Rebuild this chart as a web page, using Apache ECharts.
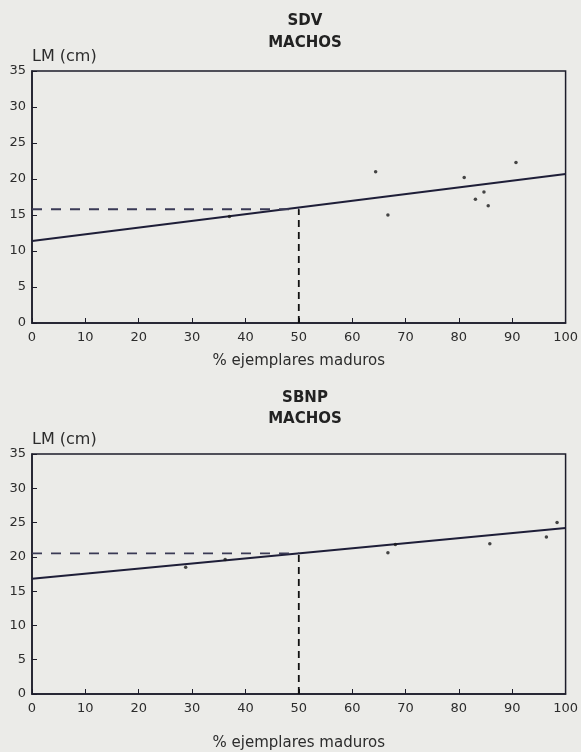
<!DOCTYPE html>
<html>
<head>
<meta charset="utf-8">
<script src="https://cdn.jsdelivr.net/npm/echarts@6/dist/echarts.min.js"></script>
<style>
html,body{margin:0;padding:0;background:#ebebe8;}
#c{width:581px;height:752px;}
</style>
</head>
<body>
<div id="c"></div>
<script>
// ---- data ----
const xTicks = [0,10,20,30,40,50,60,70,80,90,100];
const yTicks = [0,5,10,15,20,25,30,35];

// SDV machos
const sdvX = [37, 64.4, 66.7, 81.0, 83.1, 84.7, 85.5, 90.7];
const sdvY = [14.8, 21.0, 15.0, 20.2, 17.2, 18.2, 16.3, 22.3];
const sdvFitX = [0, 100];
const sdvFitY = [11.4, 20.7];
const sdvLM50 = 15.8;

// SBNP machos
const sbnpX = [28.8, 36.2, 66.7, 68.1, 85.8, 96.4, 98.4];
const sbnpY = [18.5, 19.6, 20.6, 21.8, 21.9, 22.9, 25.0];
const sbnpFitX = [0, 100];
const sbnpFitY = [16.8, 24.2];
const sbnpLM50 = 20.5;

const pct50 = 50;

// ---- helpers ----
const zip = (a, b) => a.map((v, i) => [v, b[i]]);
const FONT = 'DejaVu Sans';
const INK = '#2c2c2c';

function xAxis(idx, nameGap) {
  return {
    gridIndex: idx, type: 'value', min: xTicks[0], max: xTicks[xTicks.length - 1], interval: xTicks[1] - xTicks[0],
    name: '% ejemplares maduros', nameLocation: 'middle', nameGap: nameGap,
    nameTextStyle: {fontFamily: FONT, fontSize: 15, color: INK},
    axisLine: {show: true, lineStyle: {color: '#1c1c2a', width: 1.5}},
    axisTick: {show: true, inside: true, length: 5, lineStyle: {color: '#1c1c2a'}},
    axisLabel: {fontFamily: FONT, fontSize: 13, color: INK, margin: 8},
    splitLine: {show: false}
  };
}
function yAxis(idx) {
  return {
    gridIndex: idx, type: 'value', min: yTicks[0], max: yTicks[yTicks.length - 1], interval: yTicks[1] - yTicks[0],
    name: 'LM (cm)', nameLocation: 'end', nameGap: 14,
    nameTextStyle: {fontFamily: FONT, fontSize: 16, color: INK, align: 'left', verticalAlign: 'middle'},
    axisLine: {show: true, lineStyle: {color: '#1c1c2a', width: 1.5}},
    axisTick: {show: true, inside: true, length: 5, lineStyle: {color: '#1c1c2a'}},
    axisLabel: {fontFamily: FONT, fontSize: 13, color: INK, margin: 6},
    splitLine: {show: false}
  };
}
function panelSeries(idx, px, py, fx, fy, lm50) {
  return [
    {type: 'scatter', xAxisIndex: idx, yAxisIndex: idx, data: zip(px, py),
     symbol: 'circle', symbolSize: 3.5, itemStyle: {color: '#1a1a1a'}, silent: true, z: 5},
    {type: 'line', xAxisIndex: idx, yAxisIndex: idx, data: zip(fx, fy),
     showSymbol: false, lineStyle: {color: '#1e1e38', width: 2}, silent: true},
    {type: 'line', xAxisIndex: idx, yAxisIndex: idx, data: [[0, lm50], [pct50, lm50]],
     showSymbol: false, lineStyle: {color: '#3a3a55', width: 1.8, type: [10, 9]}, silent: true},
    {type: 'line', xAxisIndex: idx, yAxisIndex: idx, data: [[pct50, 0], [pct50, lm50]],
     showSymbol: false, lineStyle: {color: '#111', width: 1.8, type: [7, 5]}, silent: true}
  ];
}

const chart = echarts.init(document.getElementById('c'), null, {renderer: 'canvas'});
chart.setOption({
  backgroundColor: '#ebebe8',
  animation: false,
  title: [
    {text: 'SDV\nMACHOS', left: 300, top: 5, textAlign: 'center',
     textStyle: {fontFamily: FONT, fontWeight: 'bold', fontSize: 15, color: '#222', lineHeight: 22}},
    {text: 'SBNP\nMACHOS', left: 300, top: 383, textAlign: 'center',
     textStyle: {fontFamily: FONT, fontWeight: 'bold', fontSize: 15, color: '#222', lineHeight: 21}}
  ],
  grid: [
    {left: 32, top: 71, width: 535, height: 252, show: true, borderColor: '#1c1c2a', borderWidth: 1.5, backgroundColor: 'transparent'},
    {left: 32, top: 454, width: 535, height: 250, show: true, borderColor: '#1c1c2a', borderWidth: 1.5, backgroundColor: 'transparent'}
  ],
  xAxis: [xAxis(0, 31), xAxis(1, 42)],
  yAxis: [yAxis(0), yAxis(1)],
  series: [
    ...panelSeries(0, sdvX, sdvY, sdvFitX, sdvFitY, sdvLM50),
    ...panelSeries(1, sbnpX, sbnpY, sbnpFitX, sbnpFitY, sbnpLM50)
  ]
});
</script>
</body>
</html>
